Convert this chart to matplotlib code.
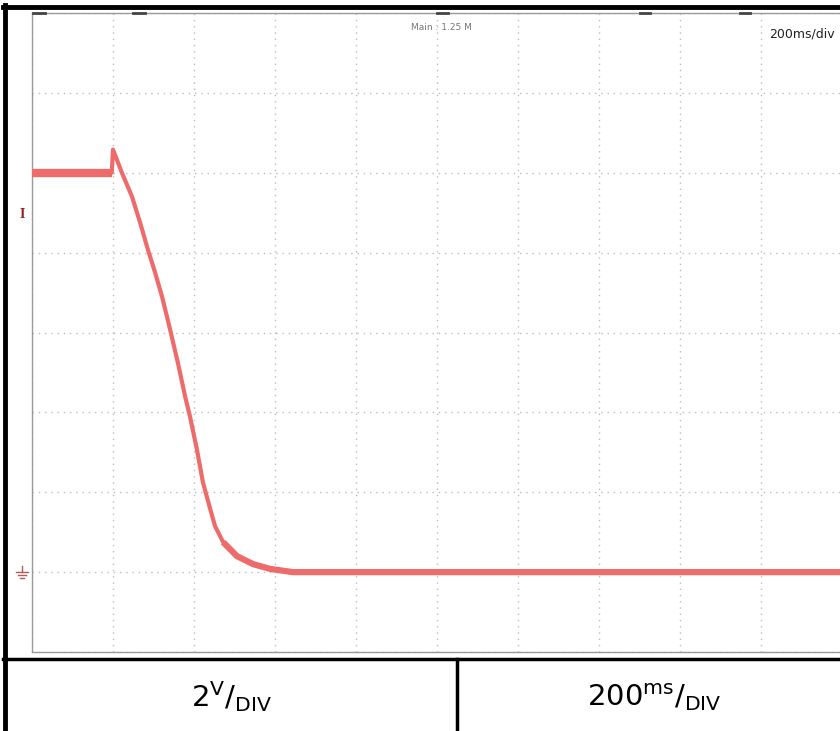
import numpy as np
import matplotlib.pyplot as plt
import matplotlib.transforms as mtransforms
from matplotlib.lines import Line2D

plt.rcParams['mathtext.fontset'] = 'custom'
plt.rcParams['mathtext.rm'] = 'Liberation Sans'

# --- trace (time in ms, level in V)
time_ms = [0, 197, 200, 222, 247, 267, 286, 304, 321, 338, 360, 378, 390, 407,
           422, 440, 452, 472, 506, 546, 588, 644, 800, 1200, 1600, 2000]
volts = [10.0, 10.0, 10.58, 10.0, 9.4, 8.75, 8.08, 7.5, 6.9, 6.2, 5.25, 4.4,
         3.9, 3.08, 2.25, 1.58, 1.15, 0.75, 0.4, 0.2, 0.08, 0.0, 0.0, 0.0, 0.0, 0.0]

ms_per_div = 200
v_per_div = 2
n_xdiv = 10
n_ydiv = 8
ground_v = 0
trig_v = 8.95

cell_labels = [r'$\mathregular{2^{V}/_{DIV}}$', r'$\mathregular{200^{ms}/_{DIV}}$']

W, H = 840, 731
fig = plt.figure(figsize=(W / 100, H / 100), dpi=100)
fig.patch.set_facecolor('white')

def fx(px):
    return px / W

def fy(py):
    return 1 - py / H

narrow = ['Liberation Sans Narrow', 'DejaVu Sans Condensed', 'DejaVu Sans']

# --- scope screen
ax = fig.add_axes([fx(32), fy(652), fx(810), (652 - 13) / H])
ax.set_xlim(0, n_xdiv * ms_per_div)
ax.set_ylim(-v_per_div, (n_ydiv - 1) * v_per_div)
ax.set_xticks(np.arange(0, n_xdiv * ms_per_div + 1, ms_per_div))
ax.set_yticks(np.arange(-v_per_div, (n_ydiv - 1) * v_per_div + 1, v_per_div))
ax.tick_params(length=0, labelbottom=False, labelleft=False)
ax.grid(True, color='#bcbcbc', linestyle=(0, (1, 3.5)), linewidth=1.0)
for s in ax.spines.values():
    s.set_color('#9a9a9a')
    s.set_linewidth(1.0)

t = np.array(time_ms)
v = np.array(volts)
red = '#ee6b6b'
line_kw = dict(color=red, solid_capstyle='butt', solid_joinstyle='round', zorder=3)
ax.plot(t, v, lw=3.0, **line_kw)
ax.plot(t[:2], v[:2], lw=6.0, **line_kw)
ax.plot(t[17:], v[17:], lw=4.5, **line_kw)

# top ruler marks
for x0, x1 in [(1, 13), (101, 113), (405, 416), (608, 618), (708, 718)]:
    ax.plot([x0 * 200 / 81, x1 * 200 / 81], [14, 14], color='#444444', lw=2.0,
            clip_on=False, zorder=4)

ax.text(0.505, 0.985, 'Main : 1.25 M', transform=ax.transAxes, ha='center', va='top',
        fontsize=6.5, color='#777777', family=narrow)
ax.text(fx(835 - 32) / fx(810), 0.978, '200ms/div', transform=ax.transAxes,
        ha='right', va='top', fontsize=9, color='#222222', family=narrow)

# channel markers left of the screen
tr = mtransforms.blended_transform_factory(fig.transFigure, ax.transData)
gx = fx(22)
dv = 2.0 / 80
for half, off in [(6, 0), (4, 3), (2, 6)]:
    ax.add_line(Line2D([gx - fx(half), gx + fx(half)], [ground_v - off * dv] * 2,
                       transform=tr, color='#b05a5a', lw=1.0, clip_on=False))
ax.add_line(Line2D([gx, gx], [ground_v + 6 * dv, ground_v], transform=tr,
                   color='#b05a5a', lw=1.0, clip_on=False))
ax.text(gx, trig_v, 'I', transform=tr, ha='center', va='center', fontsize=10,
        fontweight='bold', family='Liberation Serif', color='#8b2020')

# --- outer frame and label table
frame = dict(transform=fig.transFigure, color='black', clip_on=False)
fig.add_artist(Line2D([fx(3), fx(840)], [fy(7), fy(7)], lw=3.5, **frame))
fig.add_artist(Line2D([fx(5), fx(5)], [fy(5), fy(731)], lw=3.5, **frame))
fig.add_artist(Line2D([fx(3), fx(840)], [fy(659), fy(659)], lw=2.5, **frame))
fig.add_artist(Line2D([fx(457), fx(457)], [fy(659), fy(731)], lw=2.5, **frame))

fig.text(fx(232), fy(697), cell_labels[0], ha='center', va='center', fontsize=21)
fig.text(fx(654), fy(697), cell_labels[1], ha='center', va='center', fontsize=21)

fig.savefig('out.png', dpi=100)
